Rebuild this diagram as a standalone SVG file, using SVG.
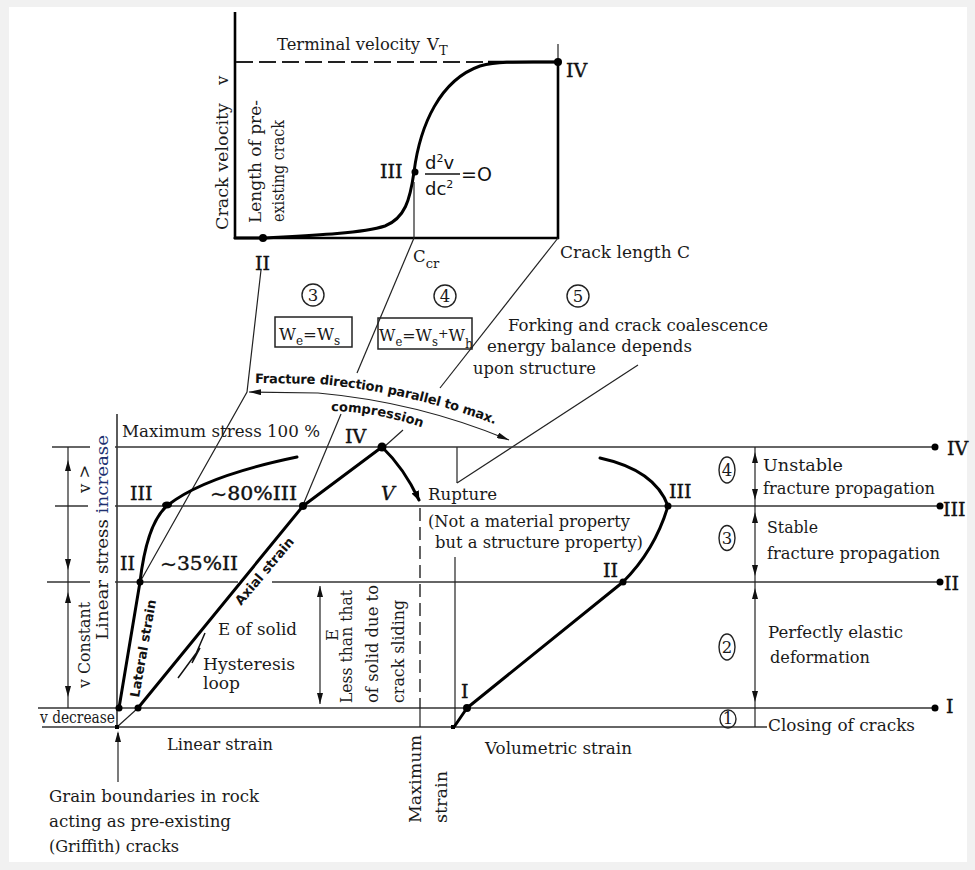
<svg xmlns="http://www.w3.org/2000/svg" width="975" height="870" viewBox="0 0 975 870">
<defs>
<style>
.t{font-family:"DejaVu Serif","Liberation Serif",serif;font-size:16.5px;fill:#1a1a1a}
.r{font-family:"DejaVu Serif","Liberation Serif",serif;font-size:19px;fill:#111;stroke:#111;stroke-width:0.4}
.s{font-family:"DejaVu Sans","Liberation Sans",sans-serif;font-weight:bold;font-size:13px;fill:#111}
.m{font-family:"DejaVu Sans","Liberation Sans",sans-serif;fill:#111}
.thin{stroke:#222;stroke-width:1.2;fill:none}
.hl{stroke:#333;stroke-width:1.6;fill:none}
.ax{stroke:#000;stroke-width:2.6;fill:none}
.thick{stroke:#000;stroke-width:3;fill:none;stroke-linecap:round;stroke-linejoin:round}
.dot{fill:#000}
.circ{fill:none;stroke:#222;stroke-width:1.4}
</style>
<marker id="ah" viewBox="0 0 12 6" refX="12" refY="3" markerWidth="12" markerHeight="6" orient="auto-start-reverse" markerUnits="userSpaceOnUse">
<path d="M0,0 L12,3 L0,6 z" fill="#111"/>
</marker>
<marker id="ahb" viewBox="0 0 10 8" refX="9" refY="4" markerWidth="10" markerHeight="8" orient="auto" markerUnits="userSpaceOnUse">
<path d="M0,0 L10,4 L0,8 z" fill="#000"/>
</marker>
<path id="up" d="M0,0 L-3,11 L3,11 z" fill="#111"/>
<path id="dn" d="M0,0 L-3,-11 L3,-11 z" fill="#111"/>
<path id="fracPath" d="M255,383 L318,384 Q418,393 510,430"/>
<path id="compPath" d="M331,411 Q380,412 426,429"/>
</defs>

<rect width="975" height="870" fill="#f1f1f1"/>
<rect x="9" y="7" width="958" height="855" fill="#fff"/>

<g id="top-graph">
<line class="ax" x1="235" y1="12" x2="235" y2="239"/>
<line class="ax" x1="234" y1="238" x2="559" y2="238"/>
<line class="ax" x1="558" y1="62" x2="558" y2="239"/>
<line class="thin" x1="558" y1="44" x2="558" y2="62"/>
<line x1="236" y1="62" x2="490" y2="62" stroke="#222" stroke-width="2" stroke-dasharray="17 6"/>
<line x1="488" y1="62" x2="558" y2="62" stroke="#000" stroke-width="2.6"/>
<path class="thick" d="M235,238 L263,238 C300,236 360,234 385,226 C405,218 410,200 414,172 C420,125 440,80 480,66 C500,61 520,62 558,62"/>
<line class="thin" x1="414" y1="182" x2="414" y2="238"/>
<circle class="dot" cx="263" cy="238" r="4"/>
<circle class="dot" cx="415" cy="172" r="3.5"/>
<circle class="dot" cx="558" cy="62" r="4"/>
<text class="t" x="277" y="50" textLength="143" lengthAdjust="spacingAndGlyphs">Terminal velocity</text>
<text class="t" x="427" y="50">V<tspan font-size="13" dy="5">T</tspan></text>
<text class="r" x="566" y="77">IV</text>
<text class="r" x="380" y="178">III</text>
<text class="m" x="425" y="169" font-size="18">d<tspan font-size="11" dy="-7">2</tspan><tspan dy="7">v</tspan></text>
<line x1="425" y1="174" x2="460" y2="174" stroke="#111" stroke-width="1.3"/>
<text class="m" x="425" y="195" font-size="18">dc<tspan font-size="11" dy="-7">2</tspan></text>
<text class="m" x="461" y="181" font-size="19">=O</text>
<text class="r" x="255" y="270">II</text>
<text class="t" x="413" y="262">C<tspan font-size="13" dy="6">cr</tspan></text>
<text class="t" x="560" y="258" textLength="130" lengthAdjust="spacingAndGlyphs">Crack length C</text>
<text class="t" transform="translate(228,230) rotate(-90)" font-size="17" textLength="127" lengthAdjust="spacingAndGlyphs">Crack velocity</text>
<text class="t" transform="translate(228,85) rotate(-90)" font-size="17">v</text>
<text class="t" transform="translate(261,223) rotate(-90)" font-size="17" textLength="123" lengthAdjust="spacingAndGlyphs">Length of pre-</text>
<text class="t" transform="translate(284,222) rotate(-90)" font-size="17" textLength="102" lengthAdjust="spacingAndGlyphs">existing crack</text>
</g>

<g id="energy-notes">
<circle class="circ" cx="313" cy="295" r="11"/>
<text class="t" x="313" y="301" font-size="16" text-anchor="middle">3</text>
<circle class="circ" cx="445" cy="296" r="11"/>
<text class="t" x="445" y="302" font-size="16" text-anchor="middle">4</text>
<circle class="circ" cx="578" cy="296" r="11"/>
<text class="t" x="578" y="302" font-size="16" text-anchor="middle">5</text>
<rect x="275" y="317" width="77" height="30" fill="none" stroke="#222" stroke-width="1.5"/>
<text class="t" x="279" y="340" font-size="18">W<tspan font-size="12" dy="5">e</tspan><tspan dy="-5">=W</tspan><tspan font-size="12" dy="5">s</tspan></text>
<rect x="378" y="318" width="94" height="31" fill="none" stroke="#222" stroke-width="1.5"/>
<text class="t" x="379" y="341" font-size="18" textLength="94" lengthAdjust="spacingAndGlyphs">W<tspan font-size="12" dy="5">e</tspan><tspan dy="-5">=W</tspan><tspan font-size="12" dy="5">s</tspan><tspan font-size="13" dy="-8">+</tspan><tspan dy="3">W</tspan><tspan font-size="13" dy="7">h</tspan></text>
<text class="t" x="508" y="331" textLength="260" lengthAdjust="spacingAndGlyphs">Forking and crack coalescence</text>
<text class="t" x="487" y="352" textLength="205" lengthAdjust="spacingAndGlyphs">energy balance depends</text>
<text class="t" x="473" y="374" textLength="123" lengthAdjust="spacingAndGlyphs">upon structure</text>
<text class="s" font-size="13.5" letter-spacing="-0.2"><textPath href="#fracPath">Fracture direction parallel to max.</textPath></text>
<text class="s" font-size="12.5"><textPath href="#compPath">compression</textPath></text>
</g>

<g id="connectors">
<polyline class="thin" points="261,270 247,392 140,582"/>
<line class="thin" x1="414" y1="238" x2="357" y2="373"/>
<line class="thin" x1="341" y1="414" x2="303" y2="505"/>
<line class="thin" x1="558" y1="238" x2="440" y2="388"/>
<line class="thin" x1="638" y1="365" x2="457" y2="483"/>
<line class="thin" x1="457" y1="447" x2="457" y2="483"/>
<line class="thin" x1="403" y1="430" x2="384" y2="447"/>
<path class="thin" stroke-width="1.4" d="M249,392 L318,393 Q418,402 509,440" marker-start="url(#ah)" marker-end="url(#ah)"/>
</g>

<g id="stress-strain">
<line class="hl" x1="52" y1="447" x2="90" y2="447"/>
<line class="hl" x1="115" y1="447" x2="935" y2="447"/>
<line class="hl" x1="55" y1="506" x2="88" y2="506"/>
<line class="hl" x1="115" y1="506" x2="940" y2="506"/>
<line class="hl" x1="47" y1="582" x2="90" y2="582"/>
<line class="hl" x1="115" y1="582" x2="238" y2="582"/>
<line class="hl" x1="272" y1="582" x2="940" y2="582"/>
<line class="hl" x1="38" y1="708" x2="935" y2="708"/>
<line class="hl" x1="42" y1="727" x2="767" y2="727"/>
<line class="hl" x1="117" y1="414" x2="117" y2="727"/>
<circle class="dot" cx="935" cy="447" r="3.5"/>
<circle class="dot" cx="940" cy="506" r="3.5"/>
<circle class="dot" cx="940" cy="582" r="3.5"/>
<circle class="dot" cx="935" cy="708" r="3.5"/>

<line class="thin" x1="68" y1="447" x2="68" y2="708"/>
<use href="#up" x="68" y="460"/><use href="#dn" x="68" y="570"/>
<use href="#up" x="68" y="592"/><use href="#dn" x="68" y="697"/>
<line class="thin" x1="755" y1="447" x2="755" y2="727"/>
<use href="#up" x="755" y="452"/><use href="#dn" x="755" y="500"/>
<use href="#up" x="755" y="512"/><use href="#dn" x="755" y="576"/>
<use href="#up" x="755" y="588"/><use href="#dn" x="755" y="702"/>
<line class="thin" x1="320" y1="586" x2="320" y2="704"/>
<use href="#up" x="320" y="586"/><use href="#dn" x="320" y="704"/>
<line class="thin" x1="118" y1="782" x2="118" y2="733"/>
<use href="#up" x="118" y="731"/>

<line x1="420" y1="508" x2="420" y2="708" stroke="#222" stroke-width="1.4" stroke-dasharray="13 6"/>
<line class="thin" x1="420" y1="708" x2="420" y2="727"/>
<line class="thin" x1="455" y1="557" x2="455" y2="727"/>

<line class="thin" x1="117" y1="727" x2="138" y2="708"/>
<path class="thick" d="M119,708 L140,582 Q147,522 168,505 Q205,476 297,457"/>
<path class="thick" d="M138,708 L303,506 L382,447 Q404,468 419,500" marker-end="url(#ahb)"/>
<path class="thick" d="M454,727 L467,708 L623,582 Q655,550 668,506 Q655,470 600,458"/>
<path fill="none" stroke="#111" stroke-width="1.5" d="M178,678 L200,648 L192,663 L205,633"/>
<rect x="115" y="725" width="4" height="4" fill="#000"/>
<rect x="451" y="725" width="4" height="4" fill="#000"/>
<circle class="dot" cx="119" cy="708" r="3.5"/>
<circle class="dot" cx="138" cy="708" r="3.5"/>
<circle class="dot" cx="140" cy="582" r="3.5"/>
<ellipse class="dot" cx="167" cy="505" rx="5" ry="3.5"/>
<circle class="dot" cx="303" cy="506" r="4"/>
<circle class="dot" cx="382" cy="447" r="4.5"/>
<circle class="dot" cx="467" cy="708" r="4"/>
<circle class="dot" cx="623" cy="582" r="3.5"/>
<circle class="dot" cx="668" cy="506" r="3.5"/>

<text class="t" x="122" y="437" textLength="198" lengthAdjust="spacingAndGlyphs">Maximum stress  100 %</text>
<text class="r" x="130" y="500">III</text>
<text class="r" x="210" y="500" textLength="87" lengthAdjust="spacingAndGlyphs">~80%III</text>
<text class="r" x="120" y="570">II</text>
<text class="r" x="160" y="570" textLength="78" lengthAdjust="spacingAndGlyphs">~35%II</text>
<text class="r" x="345" y="443">IV</text>
<text class="r" x="381" y="500" font-style="italic">V</text>
<text class="t" x="428" y="500" textLength="69" lengthAdjust="spacingAndGlyphs">Rupture</text>
<text class="t" x="428" y="527" textLength="202" lengthAdjust="spacingAndGlyphs">(Not a material property</text>
<text class="t" x="435" y="548" textLength="208" lengthAdjust="spacingAndGlyphs">but a structure property)</text>
<text class="r" x="603" y="577">II</text>
<text class="r" x="669" y="498">III</text>
<text class="r" x="461" y="698">I</text>
<text class="t" x="218" y="635" textLength="79" lengthAdjust="spacingAndGlyphs">E of solid</text>
<text class="t" x="203" y="670" textLength="92" lengthAdjust="spacingAndGlyphs">Hysteresis</text>
<text class="t" x="203" y="689" textLength="37" lengthAdjust="spacingAndGlyphs">loop</text>
<text class="s" font-size="13" transform="translate(139,698) rotate(-80)">Lateral strain</text>
<text class="s" font-size="14" transform="translate(241,606) rotate(-50)">Axial strain</text>

<text class="t" transform="translate(108,640) rotate(-90)" font-size="18" textLength="205" lengthAdjust="spacingAndGlyphs">Linear stress <tspan fill="#203070">increase</tspan></text>
<text class="t" transform="translate(90,688) rotate(-90)" textLength="86" lengthAdjust="spacingAndGlyphs">v Constant</text>
<text class="t" transform="translate(90,493) rotate(-90)">v &gt;</text>
<text class="t" x="40" y="723" font-size="14" textLength="75" lengthAdjust="spacingAndGlyphs">v decrease</text>

<text class="t" transform="translate(338,635) rotate(-90)" text-anchor="middle">E</text>
<text class="t" transform="translate(352,703) rotate(-90)" textLength="113" lengthAdjust="spacingAndGlyphs">Less than that</text>
<text class="t" transform="translate(378,703) rotate(-90)" textLength="118" lengthAdjust="spacingAndGlyphs">of solid due to</text>
<text class="t" transform="translate(404,703) rotate(-90)" textLength="103" lengthAdjust="spacingAndGlyphs">crack sliding</text>
<text class="t" transform="translate(421,823) rotate(-90)" font-size="17" textLength="88" lengthAdjust="spacingAndGlyphs">Maximum</text>
<text class="t" transform="translate(447,823) rotate(-90)" font-size="17" textLength="52" lengthAdjust="spacingAndGlyphs">strain</text>

<text class="t" x="167" y="750" textLength="106" lengthAdjust="spacingAndGlyphs">Linear strain</text>
<text class="t" x="485" y="754" textLength="147" lengthAdjust="spacingAndGlyphs">Volumetric strain</text>
<text class="t" x="49" y="802" textLength="210" lengthAdjust="spacingAndGlyphs">Grain boundaries in rock</text>
<text class="t" x="49" y="827" textLength="182" lengthAdjust="spacingAndGlyphs">acting as pre-existing</text>
<text class="t" x="49" y="852" textLength="130" lengthAdjust="spacingAndGlyphs">(Griffith) cracks</text>
</g>

<g id="stages">
<ellipse class="circ" cx="727" cy="470" rx="8" ry="13"/>
<text class="t" x="727" y="476" font-size="14" text-anchor="middle">4</text>
<ellipse class="circ" cx="727" cy="538" rx="8" ry="12.5"/>
<text class="t" x="727" y="544" font-size="14" text-anchor="middle">3</text>
<ellipse class="circ" cx="727" cy="647" rx="8" ry="13"/>
<text class="t" x="727" y="653" font-size="14" text-anchor="middle">2</text>
<ellipse class="circ" cx="728" cy="719" rx="8" ry="9"/>
<text class="t" x="728" y="724" font-size="13" text-anchor="middle">1</text>
<text class="t" x="763" y="471" textLength="80" lengthAdjust="spacingAndGlyphs">Unstable</text>
<text class="t" x="763" y="494" textLength="172" lengthAdjust="spacingAndGlyphs">fracture propagation</text>
<text class="t" x="767" y="533" textLength="51" lengthAdjust="spacingAndGlyphs">Stable</text>
<text class="t" x="767" y="559" textLength="173" lengthAdjust="spacingAndGlyphs">fracture propagation</text>
<text class="t" x="768" y="638" textLength="135" lengthAdjust="spacingAndGlyphs">Perfectly elastic</text>
<text class="t" x="770" y="663" textLength="100" lengthAdjust="spacingAndGlyphs">deformation</text>
<text class="t" x="768" y="731" textLength="147" lengthAdjust="spacingAndGlyphs">Closing of cracks</text>
<text class="r" x="947" y="455">IV</text>
<text class="r" x="943" y="516">III</text>
<text class="r" x="944" y="590">II</text>
<text class="r" x="946" y="713">I</text>
</g>
</svg>
